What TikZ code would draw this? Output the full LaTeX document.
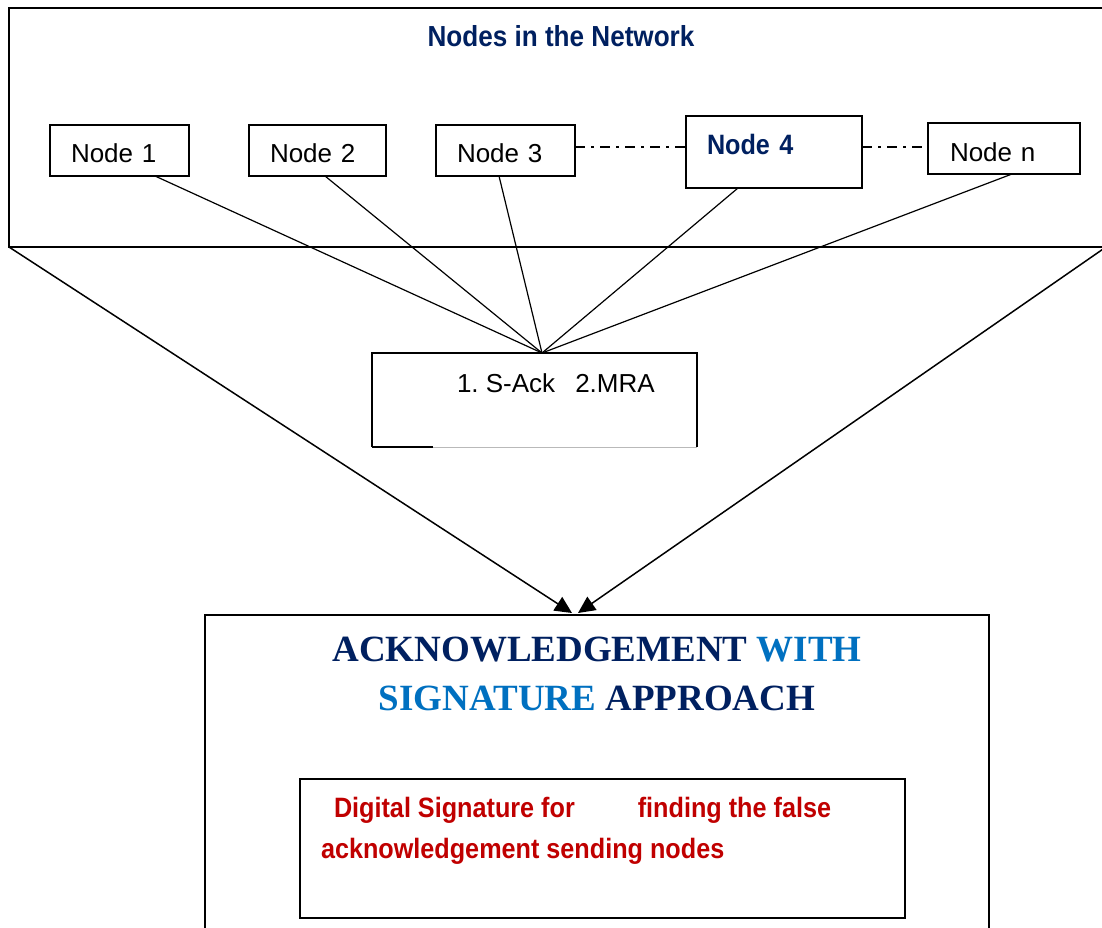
\documentclass[tikz,border=0pt]{standalone}
\usepackage{fontspec}
\setmainfont{Liberation Sans}
\newfontfamily\narrowfont[FakeStretch=0.9]{Liberation Sans}
\newfontfamily\serifbold{Liberation Serif}
\usetikzlibrary{arrows.meta,calc}
\definecolor{navy}{HTML}{002060}
\definecolor{skyblue}{HTML}{0070C0}
\definecolor{darkred}{HTML}{C00000}
\begin{document}
\begin{tikzpicture}[x=1pt,y=-1pt,
  box/.style={draw,line width=1.6pt,inner sep=0pt,outer sep=0pt,anchor=north west},
  nodebox/.style={box,inner ysep=0pt,align=left,font=\fontsize{26}{31}\selectfont},
  boldnode/.style={font=\narrowfont\bfseries\fontsize{28}{33}\selectfont,text=navy},
  link/.style={line width=1.2pt},
  bigarrow/.style={line width=1.5pt,-{Triangle[length=17pt,width=16pt]}},
  dashdot/.style={line width=2.2pt,dash pattern=on 10pt off 6pt on 3pt off 6pt},
  plaintext/.style={inner sep=0pt,outer sep=0pt}]
\useasboundingbox (0,0) rectangle (1102,928);
\clip (0,0) rectangle (1102,928);

% top frame
\node[box,line width=2pt,minimum width=1097pt,minimum height=239pt] (net) at (9,8) {};
\node[plaintext,anchor=base,font=\narrowfont\bfseries\fontsize{29}{34}\selectfont,text=navy] (title) at (561,47) {Nodes in the Network};

% nodes
\node[nodebox,inner xsep=21pt,text width=97pt,text height=38pt,text depth=13pt] (n1) at (50,125) {Node 1};
\node[nodebox,inner xsep=21pt,text width=95pt,text height=38pt,text depth=13pt] (n2) at (249,125) {Node 2};
\node[nodebox,inner xsep=21pt,text width=97pt,text height=38pt,text depth=13pt] (n3) at (436,125) {Node 3};
\node[nodebox,boldnode,inner xsep=21pt,text width=134pt,text height=39pt,text depth=33pt] (n4) at (686,116) {Node 4};
\node[nodebox,inner xsep=22pt,text width=108pt,text height=39pt,text depth=12pt] (nn) at (928,123) {Node n};

\draw[dashdot] ($(n3.north east)+(0,22)$) -- ($(n4.north west)+(0,31)$);
\draw[dashdot] ($(n4.north east)+(0,31)$) -- ($(nn.north west)+(0,24)$);

% S-Ack / MRA box
\node[plaintext,anchor=north west,minimum width=325pt,minimum height=94pt] (sack) at (372,353) {};
\draw[line width=1.5pt] (sack.south west) -- (sack.north west) -- (sack.north east) -- (sack.south east);
\draw[line width=1.5pt] (sack.south west) -- ($(sack.south west)+(61,0)$);
\draw[gray!55,line width=1pt] ($(sack.south west)+(61,0)$) -- (sack.south east);
\node[plaintext,anchor=base west,font=\fontsize{26}{31}\selectfont] (sacktext) at (457,392) {1.\ S-Ack\hspace{20pt}2.MRA};
\coordinate (apex) at ($(sack.north west)+(170,0)$);

\draw[link] ($(n1.south west)+(105,0)$) -- (apex);
\draw[link] ($(n2.south west)+(76,0)$) -- (apex);
\draw[link] ($(n3.south west)+(63,0)$) -- (apex);
\draw[link] ($(n4.south west)+(52,0)$) -- (apex);
\draw[link] ($(nn.south west)+(84,0)$) -- (apex);

% bottom frame
\node[box,line width=1.6pt,minimum width=784pt,minimum height=330pt] (ack) at (205,615) {};
\draw[bigarrow] (net.south west) -- ($(ack.north west)+(367,-2)$);
\draw[bigarrow] (net.south east) -- ($(ack.north west)+(373,-2)$);

\node[plaintext,anchor=base,font=\serifbold\bfseries\fontsize{37}{44}\selectfont,text=navy] (ackt1) at (597,661) {ACKNOWLEDGEMENT \textcolor{skyblue}{WITH}};
\node[plaintext,anchor=base,font=\serifbold\bfseries\fontsize{37}{44}\selectfont,text=navy] (ackt2) at (597,710) {\textcolor{skyblue}{SIGNATURE} APPROACH};

\node[box,line width=1.6pt,minimum width=605pt,minimum height=139pt] (sig) at (300,779) {};
\node[plaintext,anchor=base west,font=\narrowfont\bfseries\fontsize{28}{33}\selectfont,text=darkred] (sigt1) at (334,817) {Digital Signature for\hspace{63pt}finding the false};
\node[plaintext,anchor=base west,font=\narrowfont\bfseries\fontsize{28}{33}\selectfont,text=darkred] (sigt2) at (321,858) {acknowledgement sending nodes};
\end{tikzpicture}
\end{document}
